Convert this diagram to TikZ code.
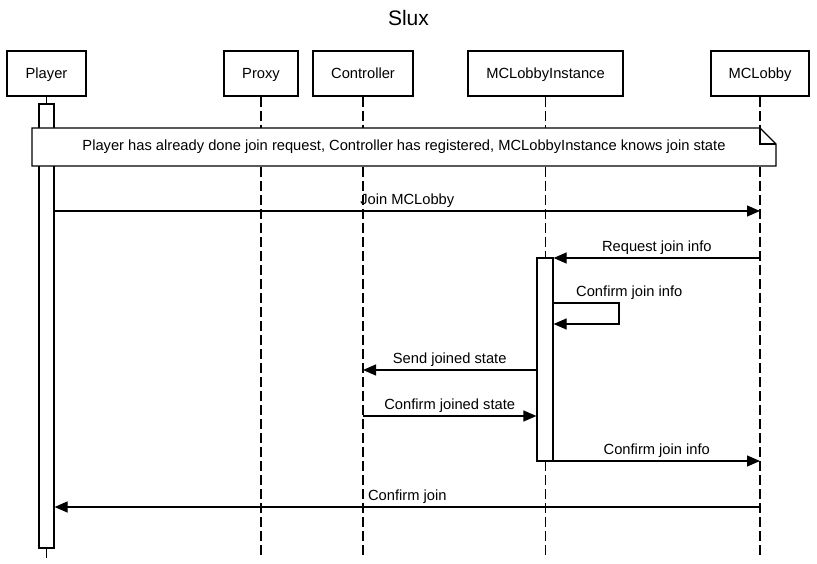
\documentclass[tikz,border=0pt]{standalone}
\usepackage{fontspec}
\setmainfont{Liberation Sans}
\usetikzlibrary{arrows.meta}
\begin{document}
\begin{tikzpicture}[x=1pt,y=-1pt,
  txt/.style={font=\fontsize{14.7}{17}\selectfont},
  actor/.style={draw,line width=2pt,minimum height=45pt,inner sep=0pt,txt,text depth=0pt},
  life/.style={line width=1.2pt,dash pattern=on 10pt off 4pt},
  solidlife/.style={line width=1.2pt},
  actbox/.style={draw,fill=white,line width=1.2pt,minimum width=15pt,inner sep=0pt},
  msg/.style={line width=1.2pt,-{Triangle[length=13pt,width=11pt]}},
  lbl/.style={anchor=south,inner sep=0pt,yshift=3pt,txt},
  notebox/.style={draw,fill=white,line width=1.2pt}
]
\useasboundingbox (0,0) rectangle (817,564);
\node[font=\fontsize{21}{24}\selectfont] (title) at (408.5,18) {Slux};

% actors
\node[actor,minimum width=79pt] (player) at (46.5,73.5) {Player};
\node[actor,minimum width=74pt] (proxy) at (261,73.5) {Proxy};
\node[actor,minimum width=100pt] (ctrl) at (363,73.5) {Controller};
\node[actor,minimum width=155pt] (mcli) at (545.5,73.5) {MCLobbyInstance};
\node[actor,minimum width=98pt] (mcl) at (760,73.5) {MCLobby};

% lifeline ends
\coordinate (playerEnd) at (46.5,558);
\coordinate (proxyEnd) at (261,558);
\coordinate (ctrlEnd) at (363,558);
\coordinate (mcliEnd) at (545.5,558);
\coordinate (mclEnd) at (760,558);

\draw[life] (proxy.south) -- (proxyEnd);
\draw[life] (ctrl.south) -- (ctrlEnd);
\draw[life] (mcli.south) -- (mcliEnd);
\draw[life] (mcl.south) -- (mclEnd);
\draw[solidlife] (player.south) -- (playerEnd);

% activations
\node[actbox,minimum height=444pt] (actP) at (46.5,326) {};
\node[actbox,minimum height=203pt,minimum width=16pt] (actM) at (545,359.5) {};

% note
\path[notebox] (32,128) -- (760,128) -- (776,144) -- (776,166) -- (32,166) -- cycle;
\draw[line width=1.2pt] (760,128) -- (760,144) -- (776,144);
\node[txt] (note) at (404,147)
  {Player has already done join request, Controller has registered, MCLobbyInstance knows join state};

% message rows
\coordinate (y1) at (0,211);
\coordinate (y2) at (0,258);
\coordinate (y3a) at (0,303);
\coordinate (y3b) at (0,324);
\coordinate (y4) at (0,370);
\coordinate (y5) at (0,416);
\coordinate (y6) at (0,461);
\coordinate (y7) at (0,507);
\coordinate (selfR) at (619,303);
\coordinate (selfR2) at (619,324);

\draw[msg] (actP.east |- y1) -- node[lbl] {Join MCLobby} (mcl |- y1);
\draw[msg] (mcl |- y2) -- node[lbl] {Request join info} (actM.east |- y2);
\draw[msg] (actM.east |- y3a) -- (selfR) -- (selfR2) -- (actM.east |- y3b);
\node[anchor=south west,inner sep=0pt,txt] (selflbl) at (576,300) {Confirm join info};
\draw[msg] (actM.west |- y4) -- node[lbl] {Send joined state} (ctrl |- y4);
\draw[msg] (ctrl |- y5) -- node[lbl] {Confirm joined state} (actM.west |- y5);
\draw[msg] (actM.east |- y6) -- node[lbl] {Confirm join info} (mcl |- y6);
\draw[msg] (mcl |- y7) -- node[lbl] {Confirm join} (actP.east |- y7);
\end{tikzpicture}
\end{document}
